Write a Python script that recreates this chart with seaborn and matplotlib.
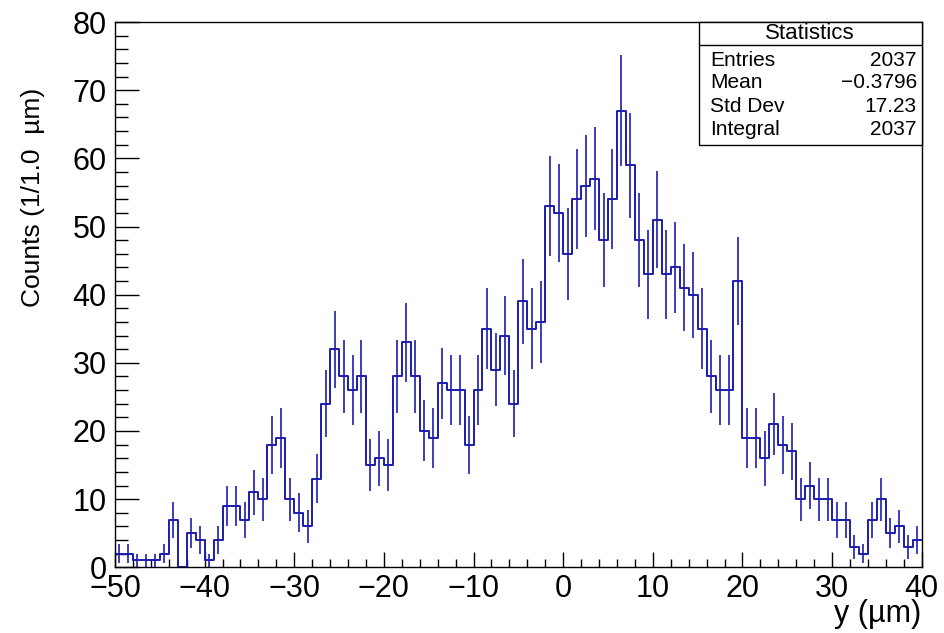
import numpy as np
import pandas as pd
import matplotlib
matplotlib.use("Agg")
import matplotlib.pyplot as plt
import seaborn as sns
from matplotlib.ticker import MultipleLocator
from matplotlib.patches import Rectangle
from matplotlib.lines import Line2D

# ---- data (bin edges -50..40, 1 µm wide) ----
x_min, x_max, bin_width = -50, 40, 1
counts = [
    2, 2, 1, 1, 1, 2, 7, 0, 5, 4,          # -50 .. -41
    1, 4, 9, 9, 7, 11, 10, 18, 19, 10,     # -40 .. -31
    8, 6, 13, 24, 32, 28, 26, 28, 15, 16,  # -30 .. -21
    15, 28, 33, 28, 20, 19, 27, 26, 26, 18,  # -20 .. -11
    26, 35, 29, 34, 24, 39, 35, 36, 53, 52,  # -10 .. -1
    46, 54, 56, 57, 48, 54, 67, 59, 48, 43,  # 0 .. 9
    51, 43, 44, 41, 40, 35, 28, 26, 26, 42,  # 10 .. 19
    19, 19, 16, 21, 18, 17, 10, 12, 10, 10,  # 20 .. 29
    7, 7, 3, 2, 7, 10, 5, 6, 3, 4,           # 30 .. 39
]
stat_labels = ["Entries", "Mean", "Std Dev", "Integral"]
stat_values = ["2037", "\u22120.3796", "17.23", "2037"]
x_label = "y (\u00b5m)"
y_label = "Counts (1/1.0  \u00b5m)"

centers = np.arange(x_min, x_max, bin_width) + bin_width / 2
df = pd.DataFrame({"y": centers, "n": np.array(counts, dtype=float)})
df["err"] = np.sqrt(df["n"])

sns.set_theme(style="white")
plt.rcParams["font.family"] = ["Liberation Sans", "DejaVu Sans"]
plt.rcParams["axes.unicode_minus"] = True
plt.rcParams["text.color"] = "black"

color = "#1c1cae"
fig = plt.figure(figsize=(9.44, 6.33), dpi=100)
ax = fig.add_axes([0.1218, 0.1038, 0.8546, 0.8614])

sns.histplot(data=df, x="y", weights="n", binwidth=bin_width,
             binrange=(x_min, x_max), element="step",
             fill=False, color=color, linewidth=1.4, ax=ax)
ax.errorbar(df["y"], df["n"], yerr=df["err"], fmt="none", ecolor=color,
            elinewidth=1.2, capsize=0)

ax.set_xlim(x_min, x_max)
ax.set_ylim(0, 80)
ax.xaxis.set_major_locator(MultipleLocator(10))
ax.xaxis.set_minor_locator(MultipleLocator(2))
ax.yaxis.set_major_locator(MultipleLocator(10))
ax.yaxis.set_minor_locator(MultipleLocator(2))
ax.tick_params(axis="both", which="both", direction="in", color="black",
               labelcolor="black", width=1.0, labelsize=22,
               bottom=True, left=True, top=False, right=False)
ax.tick_params(axis="y", which="major", length=17.5, pad=6)
ax.tick_params(axis="y", which="minor", length=9.5)
ax.tick_params(axis="x", which="major", length=10.5, pad=5)
ax.tick_params(axis="x", which="minor", length=6)
for s in ax.spines.values():
    s.set_color("black")
    s.set_linewidth(1.0)

ax.set_xlabel("")
ax.set_ylabel("")
ax.text(1.0, -0.058, x_label, transform=ax.transAxes, ha="right", va="top",
        fontsize=22)
ax.text(-0.1015, 0.879, y_label, transform=ax.transAxes, rotation=90,
        ha="center", va="top", fontsize=19)

# ---- statistics box ----
bx0, by0, bx1, by1 = 0.724, 0.7744, 1.0, 1.0
ax.add_patch(Rectangle((bx0, by0), bx1 - bx0, by1 - by0, transform=ax.transAxes,
                       facecolor="white", edgecolor="black", linewidth=1.0,
                       zorder=5, clip_on=False))
ax.add_line(Line2D([bx0, bx1], [0.958, 0.958], transform=ax.transAxes,
                   color="black", linewidth=1.0, zorder=6))
ax.text(0.8615, 0.979, "Statistics", transform=ax.transAxes, ha="center",
        va="center", fontsize=16, zorder=7)
row_y = [0.9303, 0.8882, 0.8442, 0.8038]
for lab, val, yy in zip(stat_labels, stat_values, row_y):
    ax.text(0.738, yy, lab, transform=ax.transAxes, ha="left", va="center",
            fontsize=15, zorder=7)
    ax.text(0.994, yy, val, transform=ax.transAxes, ha="right", va="center",
            fontsize=15, zorder=7)

fig.savefig("out.png", dpi=100, facecolor="white")
